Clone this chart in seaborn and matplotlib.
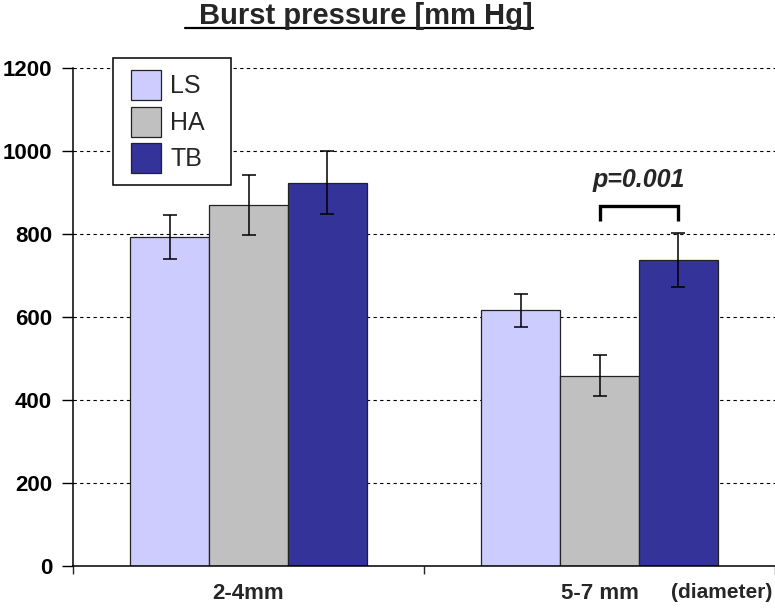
import matplotlib

matplotlib.use("Agg")
import matplotlib.pyplot as plt
import pandas as pd
import seaborn as sns
from matplotlib.lines import Line2D
from matplotlib.patches import Patch, Rectangle

# Burst pressure data (mm Hg)
groups = ["2-4mm", "5-7 mm"]
materials = ["LS", "HA", "TB"]
ls_mean = [793, 616]
ls_err = [53, 39]
ha_mean = [870, 459]
ha_err = [72, 49]
tb_mean = [924, 737]
tb_err = [75, 65]
colors = ["#CCCCFF", "#C0C0C0", "#333399"]
yticks = [0, 200, 400, 600, 800, 1000, 1200]
p_label = "p=0.001"

means = {"LS": ls_mean, "HA": ha_mean, "TB": tb_mean}
errs = {"LS": ls_err, "HA": ha_err, "TB": tb_err}

rows = []
for m in materials:
    for g, v in zip(groups, means[m]):
        rows.append({"diameter": g, "material": m, "pressure": v})
df = pd.DataFrame(rows)

sns.set_style("white")
plt.rcParams["font.family"] = ["Liberation Sans", "DejaVu Sans"]

W, H = 775, 612
fig = plt.figure(figsize=(W / 100, H / 100), dpi=100)
ax = fig.add_axes([73 / W, 46 / H, 702 / W, 498 / H])

sns.barplot(
    data=df,
    x="diameter",
    y="pressure",
    hue="material",
    hue_order=materials,
    palette=colors,
    saturation=1,
    width=0.675,
    gap=0,
    errorbar=None,
    edgecolor="#222222",
    linewidth=0.9,
    legend=False,
    ax=ax,
    zorder=2,
)

# error bars centred on each bar
centers = {}
for m, cont in zip(materials, ax.containers):
    xs = [b.get_x() + b.get_width() / 2 for b in cont]
    centers[m] = xs
    ax.errorbar(
        xs,
        means[m],
        yerr=errs[m],
        fmt="none",
        ecolor="black",
        elinewidth=1.1,
        capsize=5,
        capthick=1.1,
        zorder=3,
    )

# significance bracket between HA and TB in the 5-7 mm group
x1, x2 = centers["HA"][1], centers["TB"][1]
top = tb_mean[1] + tb_err[1]
ax.plot(
    [x1, x1, x2, x2],
    [top + 29, top + 65, top + 65, top + 29],
    color="black",
    lw=2.4,
    solid_joinstyle="miter",
    solid_capstyle="butt",
    zorder=4,
)
ax.text(
    (x1 + x2) / 2,
    top + 128,
    p_label,
    ha="center",
    va="center",
    fontsize=18,
    fontweight="bold",
    style="italic",
)

ax.set_xlim(-0.5, 1.5)
ax.set_ylim(0, 1200)
ax.set_yticks(yticks)
ax.set_xlabel("")
ax.set_ylabel("")
ax.set_xticks([-0.5, 0.5, 1.5], minor=True)
ax.tick_params(axis="y", direction="out", length=8, width=1, pad=7, labelsize=16,
               left=True, colors="black")
ax.tick_params(axis="x", which="major", length=0, pad=12, labelsize=16)
ax.tick_params(axis="x", which="minor", direction="out", length=6, width=1, bottom=True)
for lab in ax.get_xticklabels() + ax.get_yticklabels():
    lab.set_fontweight("bold")

ax.yaxis.grid(True, linestyle=(0, (3, 3)), color="black", linewidth=0.8)
ax.xaxis.grid(False)
ax.set_axisbelow(True)
for side in ["top", "right"]:
    ax.spines[side].set_visible(False)
for side in ["left", "bottom"]:
    ax.spines[side].set_color("black")
    ax.spines[side].set_linewidth(1.1)
    ax.spines[side].set_zorder(5)

# legend: fixed-size white box like the original, entries placed inside it
frame = Rectangle(
    (113 / W, 1 - 185 / H),
    118 / W,
    127 / H,
    transform=fig.transFigure,
    facecolor="white",
    edgecolor="black",
    linewidth=1.1,
    clip_on=False,
    zorder=5.5,
)
ax.add_artist(frame)
handles = [Patch(facecolor=c, edgecolor="#222222", linewidth=0.9) for c in colors]
leg = ax.legend(
    handles,
    materials,
    loc="upper left",
    bbox_to_anchor=(131 / W, 1 - 70 / H),
    bbox_transform=fig.transFigure,
    frameon=False,
    fontsize=18,
    handlelength=1.2,
    handleheight=1.47,
    handletextpad=0.38,
    labelspacing=0.26,
    borderpad=0,
    borderaxespad=0,
)
leg.set_zorder(6)

fig.text(
    1 - 3 / W,
    1 - 592 / H,
    "(diameter)",
    ha="right",
    va="center",
    fontsize=15,
    fontweight="bold",
)

title = fig.text(
    366 / W,
    1 - 24 / H,
    "Burst pressure [mm Hg]",
    ha="center",
    va="baseline",
    fontsize=21,
    fontweight="bold",
)

# underline the title
fig.canvas.draw()
bb = title.get_window_extent()
uy = 1 - 28 / H
fig.add_artist(
    Line2D(
        [(bb.x0 - 14) / W, bb.x1 / W],
        [uy, uy],
        transform=fig.transFigure,
        color="black",
        lw=1.6,
    )
)

fig.savefig("out.png", dpi=100)
